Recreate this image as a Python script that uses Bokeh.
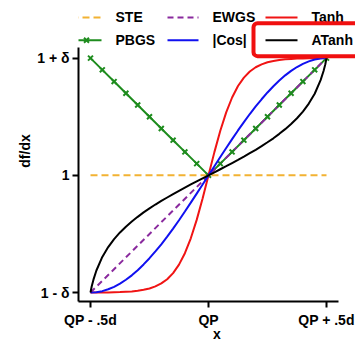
from bokeh.plotting import figure
from bokeh.models import Range1d, FixedTicker, BoxAnnotation
from bokeh.core.properties import value
from bokeh.embed import file_html
from bokeh.resources import INLINE

# ---------------- data ----------------
SERIES = ["STE", "EWGS", "Tanh", "PBGS", "|Cos|", "ATanh"]

STE_X = [-0.5, 0.5]
STE_Y = [0.0, 0.0]

EWGS_X = [-0.5, 0.5]
EWGS_Y = [-1.0, 1.0]

PBGS_X = [-0.5, -0.45, -0.4, -0.35, -0.3, -0.25, -0.2, -0.15, -0.1, -0.05, 0.0,
          0.05, 0.1, 0.15, 0.2, 0.25, 0.3, 0.35, 0.4, 0.45, 0.5]
PBGS_Y = [1.0, 0.9, 0.8, 0.7, 0.6, 0.5, 0.4, 0.3, 0.2, 0.1, 0.0,
          0.1, 0.2, 0.3, 0.4, 0.5, 0.6, 0.7, 0.8, 0.9, 1.0]

CURVE_X = [-0.5, -0.475, -0.45, -0.425, -0.4, -0.375, -0.35, -0.325, -0.3, -0.275,
           -0.25, -0.225, -0.2, -0.175, -0.15, -0.125, -0.1, -0.075, -0.05, -0.025,
           0.0, 0.025, 0.05, 0.075, 0.1, 0.125, 0.15, 0.175, 0.2, 0.225,
           0.25, 0.275, 0.3, 0.325, 0.35, 0.375, 0.4, 0.425, 0.45, 0.475, 0.5]
TANH_Y = [-1.0, -1.0, -0.999, -0.999, -0.997, -0.996, -0.993, -0.990, -0.984, -0.976,
          -0.965, -0.947, -0.922, -0.886, -0.834, -0.762, -0.664, -0.537, -0.380, -0.198,
          0.0, 0.198, 0.380, 0.537, 0.664, 0.762, 0.834, 0.886, 0.922, 0.947,
          0.965, 0.976, 0.984, 0.990, 0.993, 0.996, 0.997, 0.999, 0.999, 1.0, 1.0]
COS_Y = [-1.0, -0.997, -0.988, -0.972, -0.951, -0.924, -0.891, -0.853, -0.809, -0.760,
         -0.707, -0.649, -0.588, -0.523, -0.454, -0.383, -0.309, -0.233, -0.156, -0.078,
         0.0, 0.078, 0.156, 0.233, 0.309, 0.383, 0.454, 0.523, 0.588, 0.649,
         0.707, 0.760, 0.809, 0.853, 0.891, 0.924, 0.951, 0.972, 0.988, 0.997, 1.0]

ATANH_X = [-0.5, -0.495, -0.4875, -0.475, -0.45, -0.425, -0.4, -0.375, -0.35, -0.325,
           -0.3, -0.275, -0.25, -0.225, -0.2, -0.175, -0.15, -0.125, -0.1, -0.075,
           -0.05, -0.025, 0.0, 0.025, 0.05, 0.075, 0.1, 0.125, 0.15, 0.175,
           0.2, 0.225, 0.25, 0.275, 0.3, 0.325, 0.35, 0.375, 0.4, 0.425,
           0.45, 0.475, 0.4875, 0.495, 0.5]
ATANH_Y = [-1.0, -0.948, -0.890, -0.812, -0.696, -0.612, -0.544, -0.487, -0.438, -0.394,
           -0.354, -0.316, -0.282, -0.249, -0.218, -0.189, -0.160, -0.132, -0.105, -0.078,
           -0.052, -0.026, 0.0, 0.026, 0.052, 0.078, 0.105, 0.132, 0.160, 0.189,
           0.218, 0.249, 0.282, 0.316, 0.354, 0.394, 0.438, 0.487, 0.544, 0.612,
           0.696, 0.812, 0.890, 0.948, 1.0]

X_TICKS = [-0.5, 0.0, 0.5]
X_TICK_LABELS = ["QP - .5d", "QP", "QP + .5d"]
Y_TICKS = [-1.0, 0.0, 1.0]
Y_TICK_LABELS = ["1 - δ", "1", "1 + δ"]

# ---------------- layout helpers (pixel geometry of reference) ----------------
FONT = "Liberation Sans"
W, H = 355, 344
FRAME_L = 78          # px of frame left edge (y axis line)
FRAME_R = 355         # px of frame right edge
FRAME_T = 0
FRAME_B = 303         # px of frame bottom (x axis line)
PPX = 236.0
XS = -0.5 - (90 - FRAME_L) / PPX
XE = XS + (FRAME_R - FRAME_L) / PPX
PPY = (FRAME_B - 9 - 58) / 2.0
YS = -1.0 - 9 / PPY
YE = 1.0 + (58 - FRAME_T) / PPY


def px_x(px):
    return XS + (px - FRAME_L) / PPX


def px_y(py):
    return YS + (FRAME_B - py) / PPY


p = figure(width=W, height=H, output_backend="svg", toolbar_location=None,
           x_range=Range1d(XS, XE), y_range=Range1d(YS, YE),
           min_border_left=FRAME_L, min_border_right=0,
           min_border_top=0, min_border_bottom=0)
p.xgrid.visible = False
p.ygrid.visible = False
p.outline_line_color = None
p.background_fill_color = "white"
p.border_fill_color = "white"

for ax in (p.xaxis[0], p.yaxis[0]):
    ax.axis_line_width = 2
    ax.axis_line_color = "black"
    ax.major_tick_line_width = 2
    ax.major_tick_line_color = "black"
    ax.major_tick_out = 6
    ax.major_tick_in = 0
    ax.minor_tick_line_color = None
    ax.major_label_text_font = FONT
    ax.major_label_text_font_style = "bold"
    ax.major_label_text_font_size = "14px"
    ax.major_label_text_color = "black"
    ax.axis_label_text_font = FONT
    ax.axis_label_text_font_style = "bold"
    ax.axis_label_text_font_size = "14px"
    ax.axis_label_text_color = "black"

p.xaxis.ticker = FixedTicker(ticks=X_TICKS)
p.xaxis.major_label_overrides = dict(zip(X_TICKS, X_TICK_LABELS))
p.xaxis.axis_label = "x"
p.xaxis.axis_label_text_align = "right"
p.xaxis.bounds = (XS, 0.5 + 12 / PPX)
p.xaxis.major_label_standoff = 4
p.xaxis.axis_label_standoff = -5

p.yaxis.ticker = FixedTicker(ticks=Y_TICKS)
p.yaxis.major_label_overrides = dict(zip(Y_TICKS, Y_TICK_LABELS))
p.yaxis.axis_label = "df/dx"
p.yaxis.bounds = (YS, 1.0 + 11 / PPY)
p.yaxis.major_label_standoff = 3
p.yaxis.axis_label_standoff = 1

C_STE = "#f2b233"
C_EWGS = "#8a2a9e"
C_TANH = "#f01414"
C_PBGS = "#1e8c1e"
C_COS = "#1010f0"
C_ATANH = "#000000"

# ---------------- curves ----------------
p.line(STE_X, STE_Y, line_color=C_STE, line_width=2, line_dash="7 4")
p.line(PBGS_X, PBGS_Y, line_color=C_PBGS, line_width=2)
p.line(EWGS_X, EWGS_Y, line_color=C_EWGS, line_width=2, line_dash="6 4")
p.scatter(PBGS_X, PBGS_Y, marker="x", size=7, line_color=C_PBGS, line_width=2)
p.line(CURVE_X, TANH_Y, line_color=C_TANH, line_width=2)
p.line(CURVE_X, COS_Y, line_color=C_COS, line_width=2)
p.line(ATANH_X, ATANH_Y, line_color=C_ATANH, line_width=2)

# ---------------- manual legend ----------------
ROW_Y = [17, 40]
COL_GLYPH = [(71, 101), (167, 198), (265, 297)]
COL_TEXT = [115, 212, 311]
styles = {
    "STE": dict(line_color=C_STE, line_dash="7 4"),
    "EWGS": dict(line_color=C_EWGS, line_dash="6 4"),
    "Tanh": dict(line_color=C_TANH),
    "PBGS": dict(line_color=C_PBGS),
    "|Cos|": dict(line_color=C_COS),
    "ATanh": dict(line_color=C_ATANH),
}
for i, name in enumerate(SERIES):
    r, c = divmod(i, 3)
    gy = px_y(ROW_Y[r])
    x0, x1 = COL_GLYPH[c]
    p.line([px_x(x0), px_x(x1)], [gy, gy], line_width=2, **styles[name])
    if name == "PBGS":
        p.scatter([px_x((x0 + x1) / 2)], [gy], marker="x", size=7,
                  line_color=C_PBGS, line_width=2)
    p.text([px_x(COL_TEXT[c])], [gy], text=[name], text_font=value(FONT),
           text_font_style="bold", text_font_size="14px", text_color="black",
           text_baseline="middle", text_align="left")

box = BoxAnnotation(left=px_x(253), right=px_x(370), top=px_y(23), bottom=px_y(56),
                    fill_alpha=0, fill_color=None, line_color="#f01010",
                    line_alpha=1.0, line_width=4, border_radius=4)
p.add_layout(box)

open("out.html", "w").write(file_html(p, INLINE))
